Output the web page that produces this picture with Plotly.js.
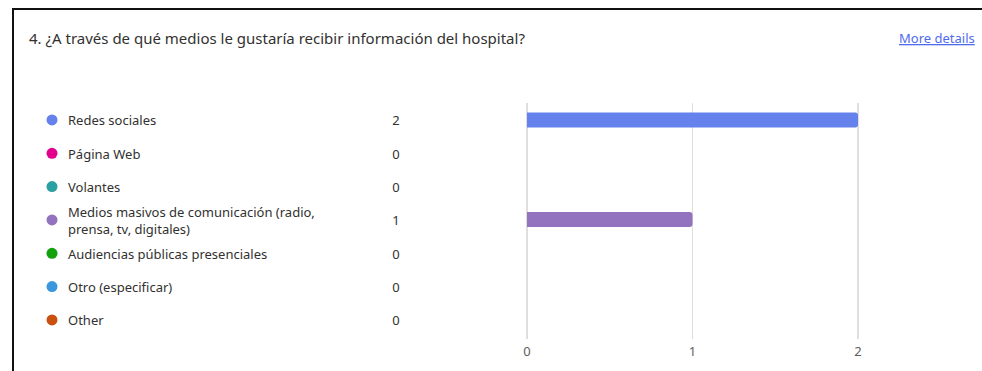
<!DOCTYPE html>
<html>
<head>
<meta charset="utf-8">
<script src="https://cdn.plot.ly/plotly-3.0.1.min.js"></script>
<style>html,body{margin:0;padding:0;background:#fff;}#chart{width:982px;height:371px;}</style>
</head>
<body>
<div id="chart"></div>
<script>
const categories = ["Redes sociales", "Página Web", "Volantes", "Medios masivos de comunicación (radio, prensa, tv, digitales)", "Audiencias públicas presenciales", "Otro (especificar)", "Other"];
const labels = ["Redes sociales", "Página Web", "Volantes", "Medios masivos de comunicación (radio,<br>prensa, tv, digitales)", "Audiencias públicas presenciales", "Otro (especificar)", "Other"];
const counts = [2, 0, 0, 1, 0, 0, 0];
const colors = ["#6581ec", "#e3008c", "#2aa0a4", "#9373c0", "#13a10e", "#3a96dd", "#ca5010"];
const xTicks = [0, 1, 2];
const titleText = "4. ¿A través de qué medios le gustaría recibir información del hospital?";
const linkText = "More details";

const W = 982, H = 371;
const FONT = "Noto Sans, sans-serif";
const TXT = "#323130";
const PAD = 0.01;
const PXU = (858 - 527) / 2;

const traces = [
  {
    type: "bar", orientation: "h",
    x: counts, y: categories,
    marker: {color: colors},
    hoverinfo: "skip", showlegend: false,
    xaxis: "x", yaxis: "y"
  },
  {
    type: "scatter", mode: "markers",
    x: categories.map(() => 52), y: categories,
    marker: {color: colors, size: 11},
    hoverinfo: "skip", showlegend: false,
    xaxis: "x2", yaxis: "y2"
  },
  {
    type: "scatter", mode: "text",
    x: categories.map(() => 68), y: categories,
    text: labels, textposition: "middle right",
    textfont: {family: FONT, size: 13, color: TXT},
    hoverinfo: "skip", showlegend: false,
    xaxis: "x2", yaxis: "y3"
  },
  {
    type: "scatter", mode: "text",
    x: categories.map(() => 396), y: categories,
    text: counts.map(String), textposition: "middle center",
    textfont: {family: FONT, size: 13, color: TXT},
    hoverinfo: "skip", showlegend: false,
    xaxis: "x2", yaxis: "y3"
  }
];

const catAxis = (top, bottom) => ({
  domain: [1 - bottom / H, 1 - top / H],
  range: [6.5, -0.5],
  type: "category",
  categoryorder: "array", categoryarray: categories,
  visible: false, fixedrange: true, anchor: "x2"
});

const layout = {
  width: W, height: H,
  margin: {l: 0, r: 0, t: 0, b: 0},
  paper_bgcolor: "#fff", plot_bgcolor: "rgba(0,0,0,0)",
  showlegend: false,
  bargap: 0.55,
  barcornerradius: 3,
  font: {family: FONT, color: TXT},
  xaxis: {
    domain: [(527 - PAD * PXU) / W, (858 + PAD * PXU) / W],
    range: [-PAD, 2 + PAD],
    tickvals: xTicks,
    ticktext: xTicks.map(String),
    showgrid: true, gridcolor: "#e1dfdd", gridwidth: 1.5,
    zeroline: false, showline: false, ticks: "",
    ticklabelstandoff: 3,
    tickfont: {family: FONT, size: 13, color: "#605e5c"},
    anchor: "y", fixedrange: true
  },
  xaxis2: {
    domain: [0, 1], range: [0, W], visible: false, anchor: "y2", fixedrange: true
  },
  yaxis: {
    domain: [1 - 339 / H, 1 - 103.4 / H],
    range: [6.6, -0.5],
    type: "category",
    categoryorder: "array", categoryarray: categories,
    visible: false, fixedrange: true, anchor: "x"
  },
  yaxis2: catAxis(103.3, 336.6),
  yaxis3: catAxis(105.3, 338.6),
  annotations: [
    {xref: "paper", yref: "paper", x: 27 / W, y: 1 - 38 / H, xanchor: "left", yanchor: "middle",
     text: titleText, showarrow: false, font: {family: FONT, size: 15, color: TXT}},
    {xref: "paper", yref: "paper", x: 977 / W, y: 1 - 38 / H, xanchor: "right", yanchor: "middle",
     text: "<u>" + linkText + "</u>", showarrow: false, font: {family: FONT, size: 13, color: "#4f6bed"}}
  ],
  shapes: [
    {type: "line", xref: "paper", yref: "paper", x0: 12 / W, x1: 1, y0: 1 - 9 / H, y1: 1 - 9 / H,
     line: {color: "#111", width: 2}},
    {type: "line", xref: "paper", yref: "paper", x0: 13 / W, x1: 13 / W, y0: 0, y1: 1 - 8 / H,
     line: {color: "#111", width: 2}}
  ]
};

Plotly.newPlot("chart", traces, layout, {displayModeBar: false, staticPlot: true});
</script>
</body>
</html>
